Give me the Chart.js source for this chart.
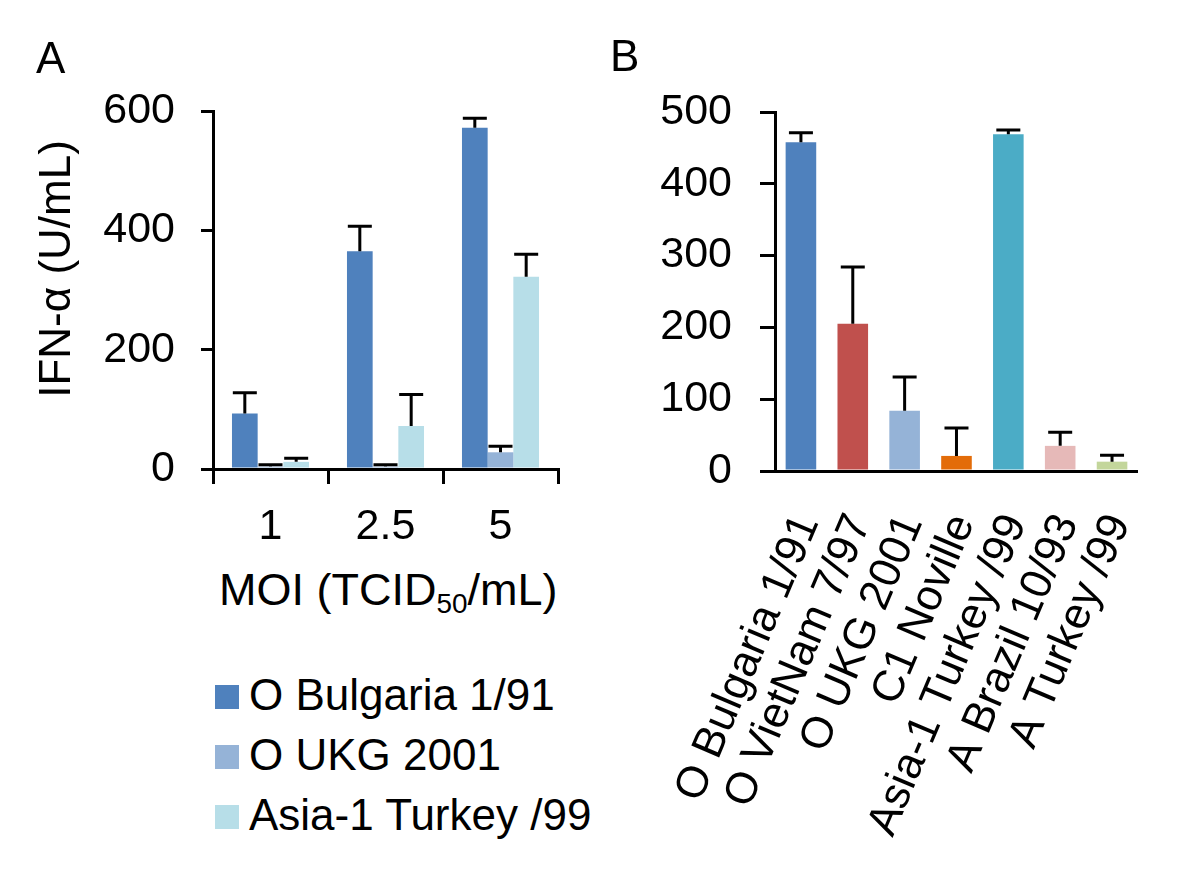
<!DOCTYPE html>
<html>
<head>
<meta charset="utf-8">
<script src="https://cdn.jsdelivr.net/npm/chart.js@4"></script>
<style>
  body { margin: 0; background: #fff; }
  #wrap { position: relative; width: 1200px; height: 893px; font-family: "Liberation Sans", Arial, sans-serif; color: #000; }
  canvas { position: absolute; top: 0; }
  .lbl { position: absolute; font-size: 44px; line-height: 44px; white-space: nowrap; }
  .key { position: absolute; width: 24px; height: 24px; }
  sub { font-size: 0.62em; vertical-align: -0.28em; line-height: 0; }
</style>
</head>
<body>
<div id="wrap">
  <canvas id="chartA" width="600" height="560" style="left:0"></canvas>
  <canvas id="chartB" width="600" height="893" style="left:600px"></canvas>
  <div class="lbl" style="left:36px;top:36px">A</div>
  <div class="lbl" style="left:610px;top:34px">B</div>
  <div class="lbl" style="left:55px;top:269px;transform:translate(-50%,-50%) rotate(-90deg)">IFN-α (U/mL)</div>
  <div class="lbl" style="left:219px;top:568px;font-size:45px">MOI (TCID<sub>50</sub>/mL)</div>
  <div id="legendA"></div>
</div>
<script>
// panel A: IFN-alpha by MOI
const moiLabels = ['1', '2.5', '5'];
const seriesNames = ['O Bulgaria 1/91', 'O UKG 2001', 'Asia-1 Turkey /99'];
const bulgariaVals = [93, 365, 572];
const bulgariaErr = [35, 42, 16];
const ukgVals = [4, 4, 28];
const ukgErr = [3, 3, 10];
const asiaVals = [12, 72, 322];
const asiaErr = [6, 53, 38];

// panel B: IFN-alpha by strain
const strainLabels = ['O Bulgaria 1/91', 'O VietNam 7/97', 'O UKG 2001', 'C1 Noville', 'Asia-1 Turkey /99', 'A Brazil 10/93', 'A Turkey /99'];
const strainVals = [458, 205, 84, 21, 469, 35, 13];
const strainErr = [13, 79, 47, 39, 6, 19, 9];

const colorsA = ['#4F81BD', '#95B3D7', '#B7DEE8'];
const colorsB = ['#4F81BD', '#C0504D', '#95B3D7', '#E36C09', '#4BACC6', '#E6B9B8', '#C3D69B'];
const FONT = '"Liberation Sans", Arial, sans-serif';

// upper-only error bars, drawn through the y scale
const errorBars = {
    id: 'errorBars',
    afterDatasetsDraw(chart) {
        const ctx = chart.ctx;
        const yScale = chart.scales.y;
        ctx.save();
        ctx.strokeStyle = '#000';
        ctx.lineWidth = 3;
        chart.data.datasets.forEach((ds, di) => {
            if (!ds.errors) return;
            chart.getDatasetMeta(di).data.forEach((bar, i) => {
                const top = yScale.getPixelForValue(ds.data[i] + ds.errors[i]);
                ctx.beginPath();
                ctx.moveTo(bar.x, bar.y);
                ctx.lineTo(bar.x, top);
                ctx.moveTo(bar.x - 12, top);
                ctx.lineTo(bar.x + 12, top);
                ctx.stroke();
            });
        });
        ctx.restore();
    }
};

const tickFont = { family: FONT, size: 43 };

new Chart(document.getElementById('chartA'), {
    type: 'bar',
    data: {
        labels: moiLabels,
        datasets: [
            { label: seriesNames[0], data: bulgariaVals, errors: bulgariaErr, backgroundColor: colorsA[0] },
            { label: seriesNames[1], data: ukgVals, errors: ukgErr, backgroundColor: colorsA[1] },
            { label: seriesNames[2], data: asiaVals, errors: asiaErr, backgroundColor: colorsA[2] }
        ]
    },
    options: {
        responsive: false,
        animation: false,
        categoryPercentage: 0.67,
        barPercentage: 1,
        layout: { padding: { left: 8, top: 111, right: 42, bottom: 0 } },
        plugins: { legend: { display: false }, tooltip: { enabled: false } },
        scales: {
            x: {
                grid: { offset: true, drawOnChartArea: false, tickLength: 15, color: '#000', lineWidth: 3 },
                border: { color: '#000', width: 3 },
                ticks: { color: '#000', font: tickFont, padding: 17, maxRotation: 0 },
                afterFit: s => { s.height = 91; }
            },
            y: {
                min: 0, max: 600,
                ticks: { stepSize: 200, color: '#000', font: tickFont, padding: 26 },
                grid: { drawOnChartArea: false, tickLength: 12, color: '#000', lineWidth: 3 },
                border: { color: '#000', width: 3 },
                afterFit: s => { s.width = 205; }
            }
        }
    },
    plugins: [errorBars]
});

new Chart(document.getElementById('chartB'), {
    type: 'bar',
    data: {
        labels: strainLabels,
        datasets: [{ data: strainVals, errors: strainErr, backgroundColor: colorsB }]
    },
    options: {
        responsive: false,
        animation: false,
        categoryPercentage: 1,
        barPercentage: 0.59,
        layout: { padding: { left: 0, top: 112, right: 47, bottom: 0 } },
        plugins: { legend: { display: false }, tooltip: { enabled: false } },
        scales: {
            x: {
                grid: { drawOnChartArea: false, drawTicks: false },
                border: { color: '#000', width: 3 },
                ticks: { color: '#000', font: { family: FONT, size: 44 }, padding: 36, labelOffset: 7, minRotation: 67, maxRotation: 67, autoSkip: false },
                afterFit: s => { s.height = 422; }
            },
            y: {
                min: 0, max: 500,
                ticks: { stepSize: 100, color: '#000', font: tickFont, padding: 28 },
                grid: { drawOnChartArea: false, tickLength: 15, color: '#000', lineWidth: 3 },
                border: { color: '#000', width: 3 },
                afterFit: s => { s.width = 175; }
            }
        }
    },
    plugins: [errorBars]
});

// legend for panel A
const legendA = document.getElementById('legendA');
seriesNames.forEach((name, i) => {
    const top = 685 + i * 60;
    const sw = document.createElement('div');
    sw.className = 'key';
    sw.style.cssText = `left:215px;top:${top}px;background:${colorsA[i]};`;
    legendA.appendChild(sw);
    const t = document.createElement('div');
    t.className = 'lbl';
    t.style.cssText = `left:249px;top:${top - 12}px;`;
    t.textContent = name;
    legendA.appendChild(t);
});
</script>
</body>
</html>
